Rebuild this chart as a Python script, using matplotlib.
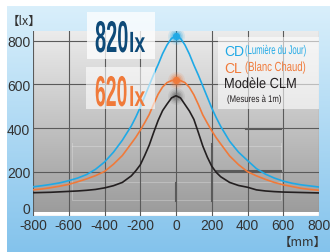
import numpy as np
import matplotlib
matplotlib.use("Agg")
import matplotlib.pyplot as plt
from matplotlib.patches import Rectangle
from matplotlib.patheffects import AbstractPathEffect
from matplotlib.transforms import Affine2D

# distance from the centre (mm)
pos = [-800, -750, -700, -650, -600, -550, -500, -450, -400, -350, -300, -250,
       -225, -200, -175, -150, -125, -100, -75, -50, -25, 0,
       25, 50, 75, 100, 125, 150, 175, 200, 225, 250,
       300, 350, 400, 450, 500, 550, 600, 650, 700, 750, 800]

# illuminance (lx)
cd = [132, 137, 143, 150, 160, 172, 188, 212, 245, 290, 345, 410,
      450, 495, 545, 595, 645, 690, 740, 780, 810, 820,
      810, 780, 738, 688, 642, 592, 542, 492, 448, 408,
      340, 290, 252, 215, 190, 172, 158, 148, 141, 136, 131]
cl = [118, 122, 128, 135, 143, 155, 168, 183, 202, 235, 275, 330,
      358, 390, 425, 462, 510, 555, 588, 608, 617, 620,
      617, 608, 586, 552, 508, 460, 423, 388, 356, 328,
      273, 233, 201, 182, 166, 152, 141, 133, 125, 120, 116]
clm = [105, 106, 107, 109, 111, 113, 116, 120, 127, 137, 152, 182,
       205, 232, 275, 322, 380, 435, 480, 510, 538, 548,
       538, 508, 478, 440, 380, 318, 268, 226, 198, 178,
       152, 138, 130, 118, 113, 110, 108, 107, 106, 105, 104]

xticks = [-800, -600, -400, -200, 0, 200, 400, 600, 800]
yticks = [0, 200, 400, 600, 800]

c_blue = "#1fa9e6"
c_orange = "#f07a3a"
c_black = "#231f20"
sans = ["Liberation Sans", "DejaVu Sans"]
cjk = ["Noto Sans CJK JP", "DejaVu Sans"]


class Condense(AbstractPathEffect):
    """squeeze glyphs horizontally around the text origin"""
    def __init__(self, sx):
        super().__init__()
        self.sx = sx

    def draw_path(self, renderer, gc, tpath, affine, rgbFace=None):
        renderer.draw_path(gc, tpath, Affine2D().scale(self.sx, 1) + affine,
                           rgbFace)


def ftext(x, y, s, sx=1.0, va="center", **kw):
    t = fig.text(x / 330, 1 - y / 253, s, va=va, ha="left", zorder=6, **kw)
    if sx != 1.0:
        t.set_path_effects([Condense(sx)])
    return t


fig = plt.figure(figsize=(3.30, 2.53), dpi=100)

# light blue background with white edge top/left
bg = fig.add_axes([0, 0, 1, 1])
bg.set_xlim(0, 1)
bg.set_ylim(0, 1)
bg.axis("off")
grad = np.linspace(0, 1, 200).reshape(-1, 1)
bg.imshow(grad, cmap=matplotlib.colors.LinearSegmentedColormap.from_list(
    "b", ["#d9effb", "#84c3ec"]), extent=[7 / 330, 1, 0, 1 - 7 / 253],
    aspect="auto", origin="upper")

ax = fig.add_axes([33 / 330, 1 - 216.7 / 253, 286 / 330, 185 / 253])
ax.set_xlim(-800, 800)
ax.set_ylim(15, 845)
ax.imshow(grad, cmap=matplotlib.colors.LinearSegmentedColormap.from_list(
    "g", ["#ececec", "#9c9c9c"]), extent=[-800, 800, 15, 845],
    aspect="auto", origin="upper", zorder=0)

# faint light lines from the background photo
ax.plot([-583, -583, 590, 590], [330, 73, 73, 330], color="white", lw=0.7,
        alpha=0.25, zorder=1)
ax.plot([-583, 590], [155, 155], color="white", lw=0.7, alpha=0.25, zorder=1)
ax.plot([-583, 590], [320, 320], color="white", lw=0.7, alpha=0.25, zorder=1)

for xv in xticks:
    ax.axvline(xv, color="#5a5a5a", lw=0.8, zorder=2)
for yv in yticks:
    ax.axhline(yv, color="#5a5a5a", lw=0.8, zorder=2)
# thicker dark segments
ax.plot([0, 0], [68, 150], color="#5a5a5a", lw=1.5, zorder=2)
ax.plot([200, 200], [68, 327], color="#5a5a5a", lw=1.5, zorder=2)
ax.plot([390, 590], [395, 395], color="#5a5a5a", lw=1.5, zorder=2)
ax.plot([230, 590], [202, 202], color="#5a5a5a", lw=1.5, zorder=2)

# glowing peak dots
for val, col, core in [(max(cd), c_blue, 0.95), (max(cl), c_orange, 0.95),
                       (max(clm), "#707070", 0.45)]:
    for s, a in [(150, 0.12), (95, 0.2), (55, 0.3)]:
        ax.scatter([0], [val], s=s, color=col, alpha=a, lw=0, zorder=3)
    ax.scatter([0], [val], s=28, color=col, alpha=core, lw=0, zorder=3)

ax.plot(pos, cd, color=c_blue, lw=1.2, zorder=4)
ax.plot(pos, cl, color=c_orange, lw=1.2, zorder=4)
ax.plot(pos, clm, color=c_black, lw=1.2, zorder=4)

for sp in ax.spines.values():
    sp.set_visible(False)
ax.tick_params(length=0, pad=2, colors="#333333")
ax.set_xticks(xticks)
ax.set_yticks(yticks)
ax.set_xticklabels([str(v) for v in xticks], family=sans, fontsize=10)
ax.set_yticklabels([str(v) for v in yticks], family=sans, fontsize=10)
ax.get_yticklabels()[0].set_verticalalignment("bottom")

ftext(7, 21, "【lx】", family=cjk, fontsize=9, color="#333333")
fig.text(327 / 330, 1 - 242 / 253, "【mm】", family=cjk, fontsize=9,
         color="#333333", va="center", ha="right")

# value boxes
fig.patches.append(Rectangle((87 / 330, 1 - 60 / 253), 68 / 330, 47 / 253,
                             transform=fig.transFigure, color="white",
                             alpha=0.75, lw=0, zorder=5))
fig.patches.append(Rectangle((86 / 330, 1 - 110 / 253), 69 / 330, 42 / 253,
                             transform=fig.transFigure, color="white",
                             alpha=0.6, lw=0, zorder=5))
ftext(95, 53, "820", sx=0.45, va="baseline", family=sans, weight="bold",
      fontsize=32, color="#0e4a78")
ftext(129, 53, "lx", sx=0.7, va="baseline", family=sans, weight="bold",
      fontsize=20, color="#0e4a78")
ftext(95, 107, "620", sx=0.45, va="baseline", family=sans, weight="bold",
      fontsize=31, color=c_orange)
ftext(129, 107, "lx", sx=0.7, va="baseline", family=sans, weight="bold",
      fontsize=20, color=c_orange)

# legend box
fig.patches.append(Rectangle((218 / 330, 1 - 110 / 253), 101 / 330, 72 / 253,
                             transform=fig.transFigure, color="white",
                             alpha=0.6, lw=0, zorder=5))
ftext(224, 52, "CD", family=sans, fontsize=10, color=c_blue)
ftext(245, 52, "(Lumière du Jour)", sx=0.62, family=sans, fontsize=9,
      color=c_blue)
ftext(224, 69, "CL", family=sans, fontsize=10, color=c_orange)
ftext(245, 69, "(Blanc Chaud)", sx=0.72, family=sans, fontsize=9.5,
      color=c_orange)
ftext(224, 85, "Modèle CLM", sx=0.88, family=sans, fontsize=10.5,
      color=c_black)
ftext(227, 100, "(Mesures à 1m)", sx=0.8, family=sans, fontsize=7,
      color=c_black)

fig.savefig("out.png", dpi=100)
